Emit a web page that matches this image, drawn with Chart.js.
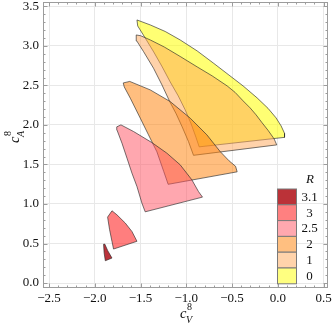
<!DOCTYPE html>
<html><head><meta charset="utf-8">
<script src="https://cdn.jsdelivr.net/npm/chart.js@4/dist/chart.umd.min.js"></script>
<style>html,body{margin:0;padding:0;background:#fff}#wrap{width:332px;height:330px}</style>
</head><body><div id="wrap"><canvas id="c" width="332" height="330"></canvas></div>
<script>
// ---- data ----
const xTickValues = [-2.5, -2.0, -1.5, -1.0, -0.5, 0.0, 0.5];
const xTickLabels = ['\u22122.5', '\u22122.0', '\u22121.5', '\u22121.0', '\u22120.5', '0.0', '0.5'];
const yTickValues = [0.0, 0.5, 1.0, 1.5, 2.0, 2.5, 3.0, 3.5];
const yTickLabels = ['0.0', '0.5', '1.0', '1.5', '2.0', '2.5', '3.0', '3.5'];
const legendTitle = 'R';
const legendLabels = ['3.1', '3', '2.5', '2', '1', '0'];

// region boundaries, R = 0
const r0x = [-1.539,-1.394,-1.230,-1.067,-0.881,-0.706,-0.543,-0.379,-0.226,-0.106,-0.019,0.036,0.074,0.074,-0.859,-0.892,-0.947,-1.012,-1.088,-1.176,-1.263,-1.356,-1.449,-1.531];
const r0y = [3.329,3.266,3.183,3.076,2.937,2.785,2.640,2.494,2.343,2.210,2.090,1.989,1.894,1.843,1.723,1.837,2.014,2.191,2.368,2.545,2.735,2.924,3.101,3.253];
// R = 1
const r1x = [-1.547,-1.498,-1.394,-1.241,-1.067,-0.881,-0.717,-0.553,-0.466,-0.379,-0.302,-0.237,-0.171,-0.106,-0.040,-0.011,-0.921,-0.976,-1.045,-1.110,-1.181,-1.266,-1.358,-1.467,-1.541];
const r1y = [3.139,3.129,3.076,2.987,2.867,2.735,2.621,2.494,2.412,2.305,2.216,2.128,2.027,1.932,1.824,1.748,1.616,1.790,1.976,2.140,2.296,2.507,2.718,2.928,3.063];
// R = 2
const r2x = [-1.689,-1.618,-1.394,-1.176,-0.957,-0.775,-0.630,-0.532,-0.461,-0.444,-1.198,-1.247,-1.321,-1.413,-1.503,-1.612,-1.678];
const r2y = [2.532,2.551,2.444,2.296,2.086,1.875,1.664,1.546,1.477,1.407,1.249,1.413,1.660,1.875,2.086,2.339,2.482];
// R = 2.5
const r25x = [-1.760,-1.714,-1.576,-1.376,-1.212,-1.067,-0.939,-0.867,-0.823,-1.449,-1.485,-1.539,-1.594,-1.648,-1.703,-1.758];
const r25y = [1.976,2.001,1.917,1.777,1.643,1.496,1.306,1.158,1.087,0.901,1.011,1.221,1.391,1.580,1.770,1.938];
// R = 3
const r3x = [-1.860,-1.812,-1.758,-1.667,-1.594,-1.539,-1.795,-1.812,-1.838];
const r3y = [0.834,0.914,0.863,0.759,0.652,0.528,0.430,0.526,0.674];
// R = 3.1
const r31x = [-1.904,-1.891,-1.858,-1.812,-1.885,-1.898];
const r31y = [0.491,0.493,0.408,0.316,0.282,0.383];

// ---- styling ----
const fills = {
  '0':  'rgba(255,255,0,0.55)',
  '1':  'rgba(255,166,86,0.5)',
  '2':  'rgba(255,130,10,0.52)',
  '2.5':'rgba(255,80,95,0.5)',
  '3':  'rgba(255,20,20,0.55)',
  '3.1':'rgba(170,0,10,0.8)'
};
const legendFills = {
  '0':'#ffff80','1':'#ffd3ab','2':'#ffbf80','2.5':'#ffa8af','3':'#ff8080','3.1':'#bb3238'
};
function pts(xs, ys){ const p = xs.map((x,i)=>({x:x, y:ys[i]})); p.push({x:xs[0], y:ys[0]}); return p; }
const regions = [
  {label:'0', xs:r0x, ys:r0y},
  {label:'1', xs:r1x, ys:r1y},
  {label:'2', xs:r2x, ys:r2y},
  {label:'2.5', xs:r25x, ys:r25y},
  {label:'3', xs:r3x, ys:r3y},
  {label:'3.1', xs:r31x, ys:r31y}
];
const datasets = regions.map((r,i) => ({
  label: r.label,
  data: pts(r.xs, r.ys),
  showLine: true,
  fill: 'shape',
  tension: 0,
  backgroundColor: fills[r.label],
  borderColor: 'rgba(40,40,40,0.8)',
  borderWidth: 0.8,
  pointRadius: 0,
  order: regions.length - i
}));

const SERIF = "'Liberation Serif','DejaVu Serif',serif";

function scriptLabel(ctx, base, sup, sub, size){
  ctx.font = 'italic ' + size + 'px ' + SERIF;
  ctx.fillText(base, 0, 0);
  const w = ctx.measureText(base).width;
  ctx.font = Math.round(size*0.68) + 'px ' + SERIF;
  ctx.fillText(sup, w + 0.5, -7.5);
  ctx.font = 'italic ' + Math.round(size*0.68) + 'px ' + SERIF;
  ctx.fillText(sub, w - 0.5, 5);
}

const framePlugin = {
  id: 'framePlugin',
  afterDraw(chart){
    const {ctx, chartArea:a, scales} = chart;
    const xs = scales.x, ys = scales.y;
    ctx.save();
    ctx.strokeStyle = '#9c9c9c';
    ctx.lineWidth = 1;
    ctx.strokeRect(a.left + 0.5, a.top + 0.5, a.right - a.left - 1, a.bottom - a.top - 1);
    ctx.beginPath();
    const xStep = (xTickValues[1] - xTickValues[0]) / 5;
    for (let k = Math.ceil(xs.min / xStep - 1e-6); k * xStep <= xs.max + 1e-9; k++) {
      const major = (k % 5 === 0);
      const p = Math.round(xs.getPixelForValue(k * xStep)) + 0.5;
      const L = major ? 4.5 : 2.5;
      ctx.moveTo(p, a.bottom); ctx.lineTo(p, a.bottom - L);
      ctx.moveTo(p, a.top); ctx.lineTo(p, a.top + L);
    }
    const yStep = (yTickValues[1] - yTickValues[0]) / 5;
    for (let k = Math.ceil(ys.min / yStep - 1e-6); k * yStep <= ys.max + 1e-9; k++) {
      const major = (k % 5 === 0);
      const p = Math.round(ys.getPixelForValue(k * yStep)) + 0.5;
      const L = major ? 4.5 : 2.5;
      ctx.moveTo(a.left, p); ctx.lineTo(a.left + L, p);
      ctx.moveTo(a.right, p); ctx.lineTo(a.right - L, p);
    }
    ctx.stroke();

    ctx.fillStyle = '#111';
    ctx.textBaseline = 'alphabetic';
    ctx.textAlign = 'left';
    ctx.save();
    ctx.translate(180, 317.5);
    scriptLabel(ctx, 'c', '8', 'V', 14.5);
    ctx.restore();
    ctx.save();
    ctx.translate(18.5, 143);
    ctx.rotate(-Math.PI/2);
    scriptLabel(ctx, 'c', '8', 'A', 14.5);
    ctx.restore();

    const bx = 277.5, bw = 19, by = 189, bh = 15.8;
    ctx.font = 'italic 13px ' + SERIF;
    ctx.textAlign = 'center';
    ctx.textBaseline = 'middle';
    ctx.fillText(legendTitle, 310, 179.5);
    ctx.font = '13px ' + SERIF;
    legendLabels.forEach((lab, i) => {
      const y0 = by + i * bh;
      ctx.fillStyle = legendFills[lab];
      ctx.fillRect(bx, y0, bw, bh);
      ctx.strokeStyle = '#7a7a7a';
      ctx.lineWidth = 1;
      ctx.strokeRect(bx, y0, bw, bh);
      ctx.fillStyle = '#111';
      ctx.fillText(lab, 309.5, y0 + bh/2 + 0.5);
    });
    ctx.restore();
  }
};

new Chart(document.getElementById('c'), {
  type: 'scatter',
  data: { datasets: datasets },
  options: {
    responsive: false,
    animation: false,
    devicePixelRatio: 1,
    layout: { padding: { left: 0, right: 4, top: 2, bottom: 24 } },
    plugins: { legend: { display: false }, tooltip: { enabled: false } },
    scales: {
      x: {
        type: 'linear', min: -2.566, max: 0.549,
        afterBuildTicks: s => { s.ticks = xTickValues.map(v => ({value: v})); },
        afterFit: s => { s.height = 18; s.paddingLeft = 0; s.paddingRight = 0; },
        ticks: { callback: (v, i) => xTickLabels[i], font: { family: SERIF, size: 13 }, color: '#111', padding: 3, maxRotation: 0, autoSkip: false },
        grid: { color: '#e8e8e8', drawTicks: false, lineWidth: 1 },
        border: { display: false }
      },
      y: {
        type: 'linear', min: -0.063, max: 3.556,
        afterBuildTicks: s => { s.ticks = yTickValues.map(v => ({value: v})); },
        afterFit: s => { s.width = 43; s.paddingTop = 0; s.paddingBottom = 0; },
        ticks: { callback: (v, i) => yTickLabels[i], font: { family: SERIF, size: 13 }, color: '#111', padding: 4, autoSkip: false },
        grid: { color: '#e8e8e8', drawTicks: false, lineWidth: 1 },
        border: { display: false }
      }
    }
  },
  plugins: [framePlugin]
});
</script>
</body></html>
